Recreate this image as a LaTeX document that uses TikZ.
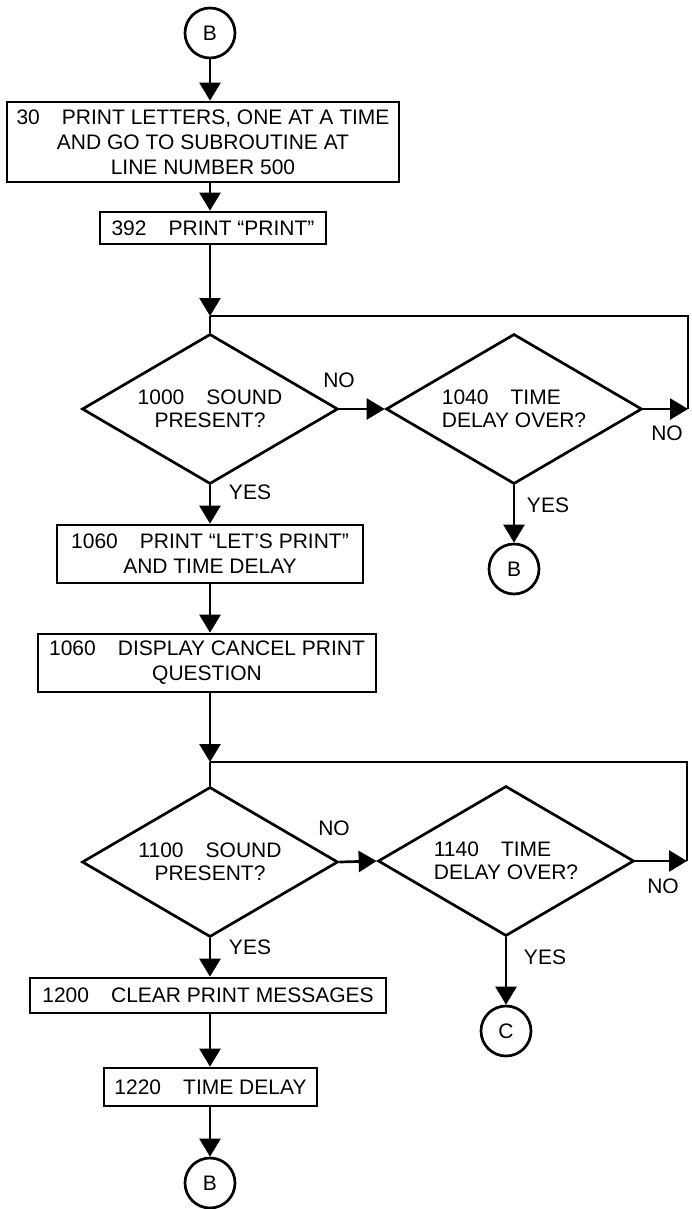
\documentclass[tikz,border=0pt]{standalone}
\usepackage{fontspec}
\setmainfont{Liberation Sans}
\usetikzlibrary{shapes.geometric,arrows.meta}
\newcommand{\numgap}{\hspace{1.05em}}
\begin{document}
\begin{tikzpicture}[
  x=0.5pt, y=-0.5pt,
  line width=1.35pt,
  every node/.style={font=\fontsize{10.5pt}{12.5pt}\selectfont},
  stepbox/.style={draw, inner sep=0pt, align=center},
  decision/.style={draw, diamond, aspect=1.7, inner sep=0pt, minimum width=256*\px, minimum height=150*\px, font=\fontsize{10.5pt}{11.5pt}\selectfont},
  connector/.style={draw, circle, inner sep=0pt, minimum size=50*\px},
  lbl/.style={inner sep=0pt},
  arr/.style={-{Triangle[length=9pt,width=10.5pt]}},
]
\def\px{0.5pt}
\useasboundingbox (0,0) rectangle (691,1209);

% first loop
\node[connector] (cB1) at (210,33) {B};
\node[stepbox, minimum width=392*\px, minimum height=80*\px] (b30) at (203,142)
  {30\numgap PRINT LETTERS, ONE AT A TIME\\AND GO TO SUBROUTINE AT\\LINE NUMBER 500};
\node[stepbox, minimum width=226*\px, minimum height=32*\px] (b392) at (213,228) {392\numgap PRINT “PRINT”};
\coordinate (j1) at (210,316);
\node[decision, align=center] (d1000) at (210,409) {1000\numgap SOUND\\PRESENT?};
\node[decision, align=left] (d1040) at (514,409) {1040\numgap TIME\\DELAY OVER?};
\coordinate (k1) at (688,409);
\node[connector] (cB2) at (514,569) {B};
\node[lbl] (no1) at (339,380) {NO};
\node[lbl] (no2) at (667,433) {NO};
\node[lbl] (yes1) at (250,492) {YES};
\node[lbl] (yes2) at (548,505) {YES};

\node[stepbox, minimum width=306*\px, minimum height=58*\px] (b1060a) at (210,554)
  {1060\numgap PRINT “LET’S PRINT”\\AND TIME DELAY};
\node[stepbox, minimum width=338*\px, minimum height=58*\px] (b1060b) at (207,663)
  {1060\numgap DISPLAY CANCEL PRINT\\QUESTION};

% second loop
\coordinate (j2) at (210,762);
\node[decision, align=center] (d1100) at (210,862) {1100\numgap SOUND\\PRESENT?};
\node[decision, align=left] (d1140) at (506,861) {1140\numgap TIME\\DELAY OVER?};
\coordinate (k2) at (687,861);
\node[connector] (cC) at (506,1031) {C};
\node[lbl] (no3) at (334,828) {NO};
\node[lbl] (no4) at (663,886) {NO};
\node[lbl] (yes3) at (250,947) {YES};
\node[lbl] (yes4) at (545,957) {YES};

\node[stepbox, minimum width=356*\px, minimum height=35*\px] (b1200) at (208,995.5) {1200\numgap CLEAR PRINT MESSAGES};
\node[stepbox, minimum width=213*\px, minimum height=38*\px] (b1220) at (210.5,1087) {1220\numgap TIME DELAY};
\node[connector] (cB3) at (210,1183) {B};

% connectors
\draw[arr] (cB1) -- (cB1 |- b30.north);
\draw[arr] (b30.south -| j1) -- (b392.north -| j1);
\draw[arr] (b392.south -| j1) -- (j1);
\draw (j1) -- (d1000.north);
\draw[arr] (d1000.east) -- (d1040.west);
\draw[arr] (d1040.east) -- (k1);
\draw (k1) |- (j1);
\draw[arr] (d1040.south) -- (cB2);
\draw[arr] (d1000.south) -- (d1000.south |- b1060a.north);
\draw[arr] (b1060a.south -| j1) -- (b1060b.north -| j1);
\draw[arr] (b1060b.south -| j2) -- (j2);
\draw (j2) -- (d1100.north);
\draw[arr] (d1100.east) -- (d1140.west);
\draw[arr] (d1140.east) -- (k2);
\draw (k2) |- (j2);
\draw[arr] (d1140.south) -- (cC);
\draw[arr] (d1100.south) -- (d1100.south |- b1200.north);
\draw[arr] (b1200.south -| j2) -- (b1220.north -| j2);
\draw[arr] (b1220.south -| j2) -- (cB3);
\end{tikzpicture}
\end{document}
